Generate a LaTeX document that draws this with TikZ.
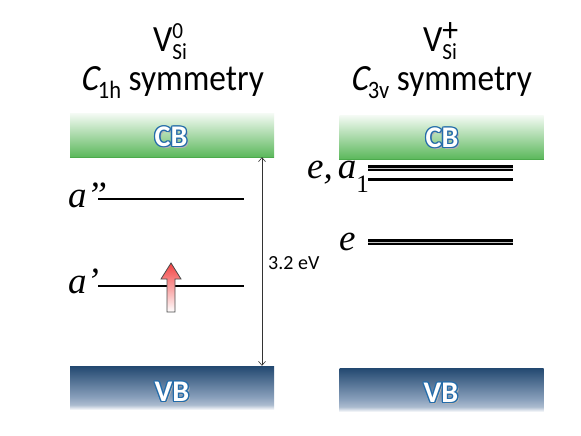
\documentclass[tikz,border=0pt]{standalone}
\usepackage{fontspec}
\usepackage{graphicx}
\setmainfont{Carlito}
\newfontfamily\timesf{Liberation Serif}
\newfontfamily\slantf[FakeSlant=0.22]{Carlito}
\usetikzlibrary{arrows.meta}
\definecolor{cbgreen}{RGB}{92,184,92}
\definecolor{cbedge}{RGB}{76,170,76}
\definecolor{vbtop}{RGB}{34,72,112}
\definecolor{vbmid}{RGB}{135,158,186}
\definecolor{artblue}{RGB}{36,108,170}
\definecolor{arrred}{RGB}{242,66,66}
\pgfdeclareverticalshading{cbshade}{100bp}{color(0bp)=(cbgreen); color(25bp)=(cbgreen); color(75bp)=(white!94!cbgreen); color(100bp)=(white!94!cbgreen)}
\pgfdeclareverticalshading{vbshade}{100bp}{color(0bp)=(white); color(25bp)=(white); color(31bp)=(vbmid!70!white); color(40bp)=(vbmid); color(75bp)=(vbtop); color(100bp)=(vbtop)}
\newcommand\wordart[1]{%
  \makebox[0pt][l]{\hspace*{2pt}\raisebox{-2pt}{\textcolor{black!30}{#1}}}%
  \foreach \ang in {0,45,...,315}{%
    \pgfmathsetmacro\dx{1.4*cos(\ang)}\pgfmathsetmacro\dy{1.4*sin(\ang)}%
    \makebox[0pt][l]{\hspace*{\dx pt}\raisebox{\dy pt}{\textcolor{artblue}{#1}}}}%
  \textcolor{white}{#1}}
\newcommand\scr{\fontsize{23}{23}\selectfont}
\newcommand\sbs{\fontsize{25}{25}\selectfont}
\begin{document}
\begin{tikzpicture}[x=1pt,y=-1pt,
  band/.style={draw=none, inner sep=0pt, minimum width=204pt, minimum height=44pt, rectangle},
  level/.style={line width=2.6pt, black},
  dlevel/.style={draw=black, line width=2.6pt, double=gray!45, double distance=1pt},
  lbl/.style={font=\timesf\itshape\fontsize{37}{40}\selectfont, inner sep=0pt, anchor=base west},
  ttl/.style={font=\fontsize{37}{40}\selectfont, inner sep=0pt, anchor=base},
  bandlbl/.style={font=\bfseries\fontsize{30}{32}\selectfont, inner sep=0pt},
]
\fill[white] (0,0) rectangle (581,436);
\useasboundingbox (0,0) rectangle (581,436);

% titles
\node[ttl] (t1a) at (170,52) {\scalebox{0.92}[1]{V\rlap{\raisebox{13pt}{\scr 0}}\raisebox{-8pt}{\scr Si}}};
\node[ttl] (t1b) at (172,91) {\scalebox{0.9}[1]{{\slantf C}\raisebox{-7pt}{\sbs 1h} symmetry}};
\node[ttl] (t2a) at (440,52) {\scalebox{0.92}[1]{V\rlap{\raisebox{10pt}{\scalebox{1.5}{\scr +}}}\raisebox{-8pt}{\scr Si}}};
\node[ttl] (t2b) at (441,91) {\scalebox{0.9}[1]{{\slantf C}\raisebox{-7pt}{\sbs 3v} symmetry}};

% bands
\node[band, shading=cbshade] (cbL) at (172,135) {};
\node[band, shading=cbshade] (cbR) at (441.5,137) {};
\draw[cbedge, line width=0.8pt] (cbL.south west) -- (cbL.south east);
\draw[cbedge, line width=0.8pt] (cbR.south west) -- (cbR.south east);
\node[band, shading=vbshade] (vbL) at (172,388) {};
\node[band, shading=vbshade] (vbR) at (441.5,390) {};

\node[bandlbl] (cbLt) at (171,137) {\wordart{CB}};
\node[bandlbl] (cbRt) at (442,138) {\wordart{CB}};
\node[bandlbl] (vbLt) at (172,392) {\wordart{VB}};
\node[bandlbl] (vbRt) at (441,393) {\wordart{VB}};

% left levels
\coordinate (l1a) at (98,199); \coordinate (l1b) at (244,199);
\coordinate (l2a) at (98,286); \coordinate (l2b) at (244,286);
\draw[level] (l1a) -- (l1b);
\draw[level] (l2a) -- (l2b);
\node[lbl] (lapp) at (68,207) {a”};
\node[lbl] (lap) at (68,293) {a’};

% spin arrow
\draw[draw=black!70, line width=0.8pt, top color=arrred, bottom color=white]
  (171,263) -- (181,279) -- (175,279) -- (175,312) -- (167,312) -- (167,279) -- (161,279) -- cycle;

% right levels
\coordinate (r1a) at (368,168); \coordinate (r1b) at (513,168);
\coordinate (r2a) at (368,179.5); \coordinate (r2b) at (513,179.5);
\coordinate (r3a) at (368,242); \coordinate (r3b) at (513,242);
\draw[dlevel] (r1a) -- (r1b);
\draw[level] (r2a) -- (r2b);
\draw[dlevel] (r3a) -- (r3b);
\node[lbl] (lea) at (307,178) {e,\hspace{5pt}a\raisebox{-14pt}{\upshape\fontsize{25}{25}\selectfont 1}};
\node[lbl] (le) at (339,250) {e};

% gap
\coordinate (gx) at (262,0);
\draw[{Straight Barb[length=4pt,width=7pt]}-{Straight Barb[length=4pt,width=7pt]}, line width=0.6pt, black!80]
  (cbL.south -| gx) -- (vbL.north -| gx);
\node[font=\fontsize{20}{22}\selectfont, anchor=base west, inner sep=0pt] (gap) at (268,269) {3.2 eV};
\end{tikzpicture}
\end{document}
